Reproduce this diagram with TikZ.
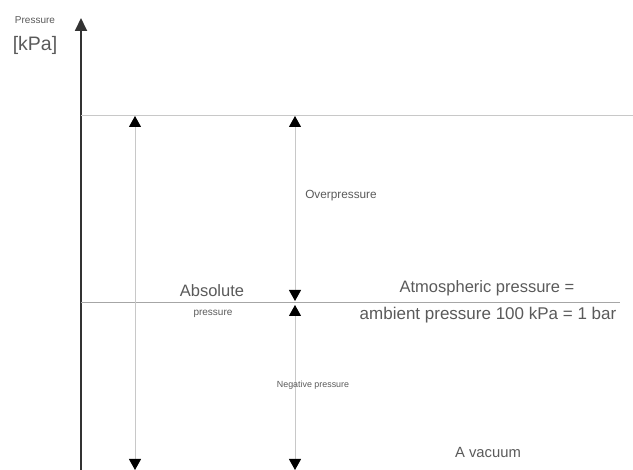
\documentclass[tikz,border=0pt]{standalone}
\usepackage{fontspec}
\setmainfont{Liberation Sans}
\usepackage{tikz}
\usetikzlibrary{arrows.meta}

\definecolor{axisgrey}{HTML}{333333}
\definecolor{linegrey}{HTML}{C8C8C8}
\definecolor{textgrey}{HTML}{5A5A5A}

\tikzset{
  big label/.style={text=textgrey, inner sep=0pt, font=\fontsize{16.5}{18}\selectfont},
  small label/.style={text=textgrey, inner sep=0pt, font=\fontsize{10}{12}\selectfont},
  level line/.style={draw=linegrey, line width=1pt},
  span arrow/.style={draw=linegrey, line width=1pt, {Triangle[width=12pt,length=11pt,color=black]}-{Triangle[width=12pt,length=11pt,color=black]}}
}

\begin{document}
\begin{tikzpicture}[x=1pt, y=-1pt]
            \useasboundingbox (0,0) rectangle (633,470);

            % draw pressure axis
            \coordinate (axisbot) at (81,470);
            \coordinate (axistop) at (81,18);
            \draw[color=axisgrey, line width=1.8pt, -{Triangle[width=12pt,length=13pt]}] (axisbot) -- (axistop);
            \node[small label] (unitname) at (35,20) {Pressure};
            \node[big label, font=\fontsize{19.5}{21}\selectfont] (unit) at (35,45) {[kPa]};

            % draw level lines
            \coordinate (topleft) at (81,116);
            \coordinate (topright) at (633,116);
            \coordinate (atmleft) at (81,303);
            \coordinate (atmright) at (620,303);
            \draw[level line] (topleft) -- (topright);
            \draw[level line, draw=black!35] (atmleft) -- (atmright);

            % draw spans
            \coordinate (abstop) at (135,116);
            \coordinate (absbot) at (135,470);
            \draw[span arrow] (absbot) -- (abstop);
            \coordinate (overtop) at (295,116);
            \coordinate (overbot) at (295,301);
            \draw[span arrow] (overbot) -- (overtop);
            \coordinate (negtop) at (295,305);
            \coordinate (negbot) at (295,470);
            \draw[span arrow] (negtop) -- (negbot);

            % labels
            \node[big label] (absolute) at (212,291) {Absolute};
            \node[small label] (absolute2) at (213,314) {pressure};
            \node[small label, font=\fontsize{11.8}{13}\selectfont] (over) at (341,196) {Overpressure};
            \node[small label, font=\fontsize{8.9}{10}\selectfont] (neg) at (313,385) {Negative pressure};
            \node[big label] (atm) at (487,288) {Atmospheric pressure =};
            \node[big label, font=\fontsize{17}{18}\selectfont] (atm2) at (488,315) {ambient pressure 100 kPa = 1 bar};
            \node[big label, font=\fontsize{14.8}{16}\selectfont] (vacuum) at (488,452) {A vacuum};
        \end{tikzpicture}
\end{document}
